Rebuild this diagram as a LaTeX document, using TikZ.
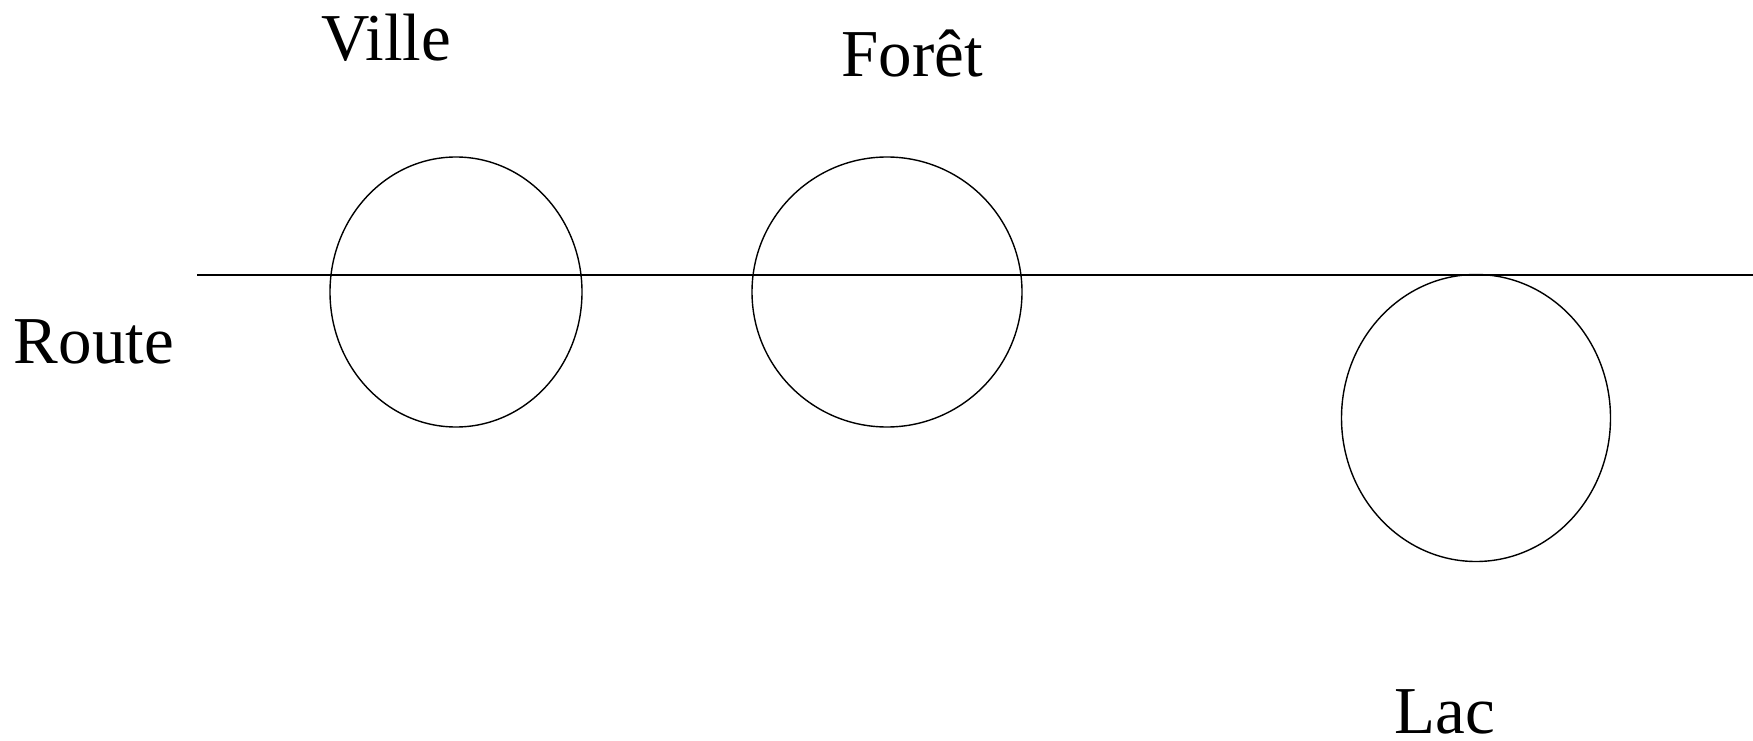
\documentclass[tikz,border=0pt]{standalone}
\usepackage{fontspec}
\setmainfont{Liberation Serif}
\usetikzlibrary{shapes.geometric}
\tikzset{
  zone/.style={ellipse, draw, line width=1.4pt, inner sep=0pt},
  label/.style={anchor=base, inner sep=0pt, font=\fontsize{67}{80}\selectfont},
  road/.style={line width=1.6pt}
}
\begin{document}
\begin{tikzpicture}[x=1pt, y=-1pt]
  \useasboundingbox (0,0) rectangle (1753,741);

  % the road
  \coordinate (routeW) at (197,275);
  \coordinate (routeE) at (1753,275);
  \draw[road] (routeW) -- (routeE);

  % places along the road
  \node[zone, minimum width=252pt, minimum height=270pt] (ville) at (456,292) {};
  \node[zone, minimum width=270pt, minimum height=270pt] (foret) at (887,292) {};
  \node[zone, minimum width=269pt, minimum height=287pt] (lac) at (1476,418) {};

  % names
  \node[label] (villeT) at (386,61) {Ville};
  \node[label] (foretT) at (912,77) {Forêt};
  \node[label] (routeT) at (94,363) {Route};
  \node[label] (lacT) at (1445,733) {Lac};
\end{tikzpicture}
\end{document}
